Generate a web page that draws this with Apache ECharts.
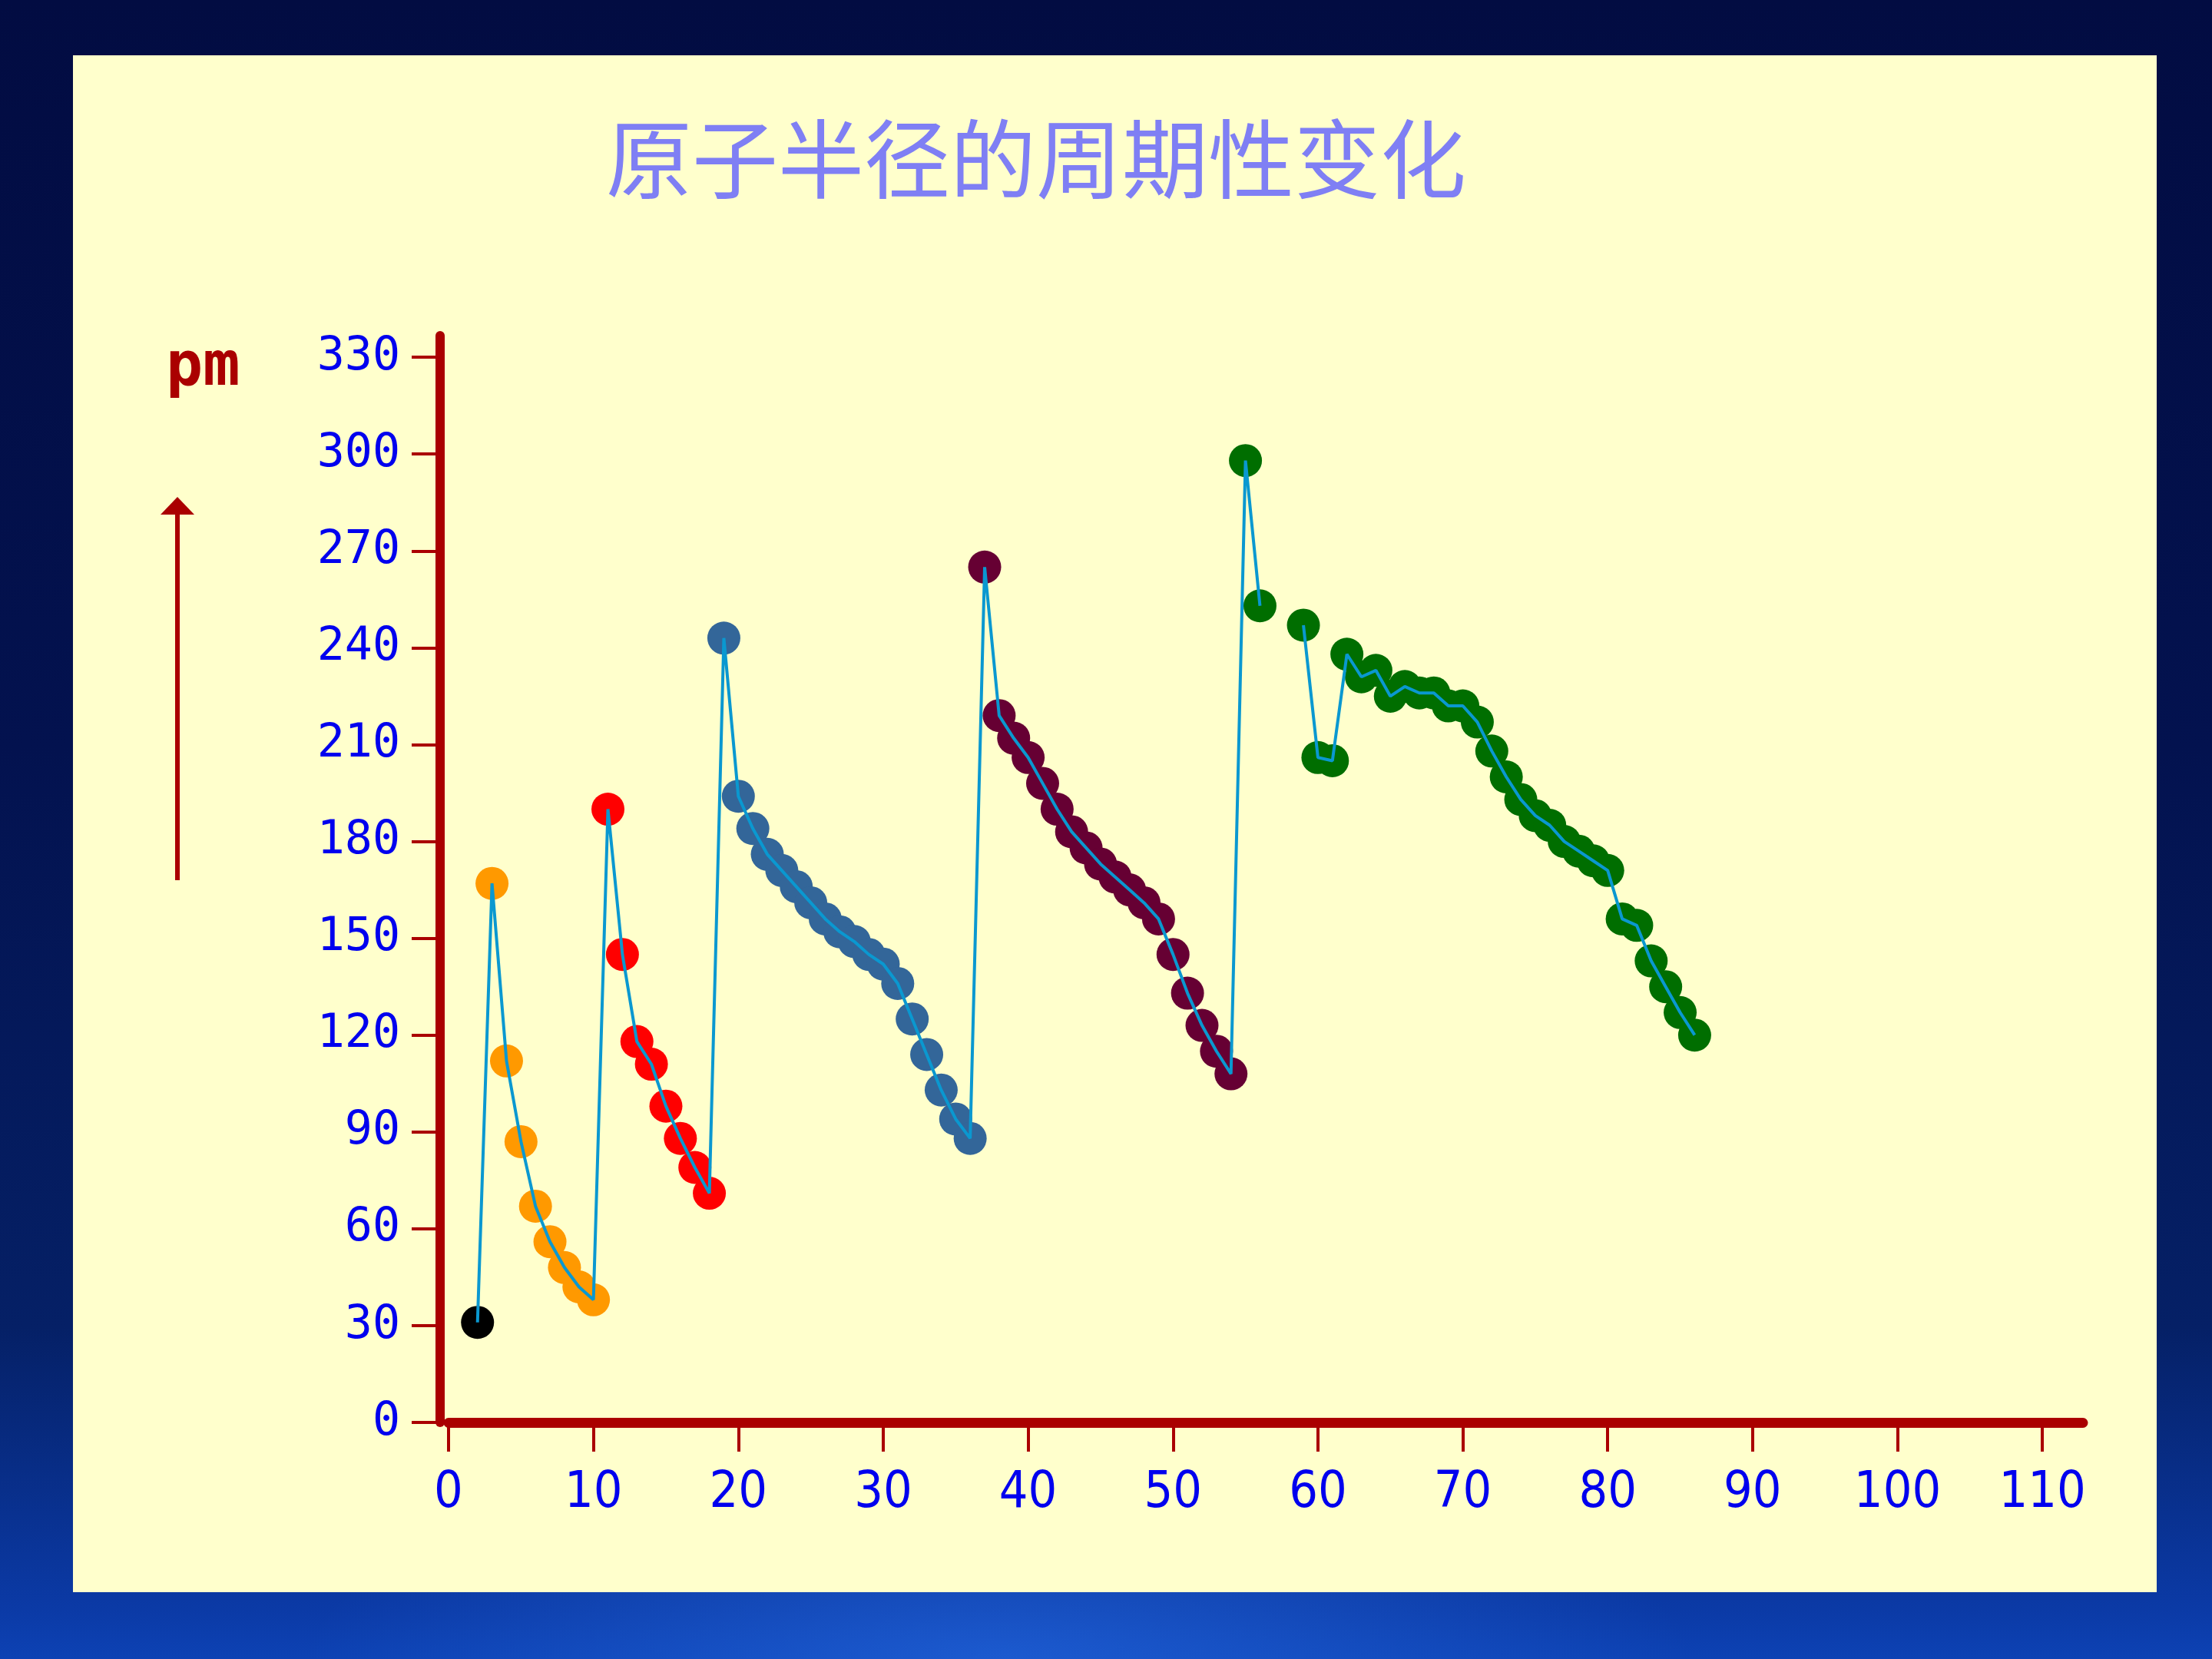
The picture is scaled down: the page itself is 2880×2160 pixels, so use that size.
<!DOCTYPE html>
<html>
<head>
<meta charset="utf-8">
<title>原子半径的周期性变化</title>
<script src="https://cdn.jsdelivr.net/npm/echarts@6/dist/echarts.min.js"></script>
<style>
  html, body {
    margin: 0;
    padding: 0;
    width: 2880px;
    height: 2160px;
    overflow: hidden;
  }
  body {
    background:
      radial-gradient(ellipse 900px 260px at 1300px 2160px, rgba(40, 110, 230, 0.55), rgba(40, 110, 230, 0) 100%),
      linear-gradient(180deg, #020c42 0%, #03124f 45%, #052066 80%, #0b3aa6 97%, #0d42b4 100%);
  }
  .panel {
    position: absolute;
    left: 95px;
    top: 72px;
    width: 2713px;
    height: 2001px;
    background: #ffffcc;
  }
  #chart {
    position: absolute;
    left: 0;
    top: 0;
    width: 2880px;
    height: 2160px;
  }
</style>
</head>
<body>
<div class="panel"></div>
<div id="chart"></div>
<script>
// 原子序数 / 原子半径 (pm)，按周期分组
const zP1 = [2]
const rP1 = [31]
const zP2 = [3, 4, 5, 6, 7, 8, 9, 10]
const rP2 = [167, 112, 87, 67, 56, 48, 42, 38]
const zP3 = [11, 12, 13, 14, 15, 16, 17, 18]
const rP3 = [190, 145, 118, 111, 98, 88, 79, 71]
const zP4 = [19, 20, 21, 22, 23, 24, 25, 26, 27, 28, 29, 30, 31, 32, 33, 34, 35, 36]
const rP4 = [243, 194, 184, 176, 171, 166, 161, 156, 152, 149, 145, 142, 136, 125, 114, 103, 94, 88]
const zP5 = [37, 38, 39, 40, 41, 42, 43, 44, 45, 46, 47, 48, 49, 50, 51, 52, 53, 54]
const rP5 = [265, 219, 212, 206, 198, 190, 183, 178, 173, 169, 165, 161, 156, 145, 133, 123, 115, 108]
const zP6 = [55, 56, 59, 60, 61, 62, 63, 64, 65, 66, 67, 68, 69, 70, 71, 72, 73, 74, 75, 76, 77, 78, 79, 80, 81, 82, 83, 84, 85, 86]
const rP6 = [298, 253, 247, 206, 205, 238, 231, 233, 225, 228, 226, 226, 222, 222, 217, 208, 200, 193, 188, 185, 180, 177, 174, 171, 156, 154, 143, 135, 127, 120]

const xTicks = [0, 10, 20, 30, 40, 50, 60, 70, 80, 90, 100, 110]
const yTicks = [0, 30, 60, 90, 120, 150, 180, 210, 240, 270, 300, 330]

const periods = [
  { z: zP1, r: rP1, color: '#000000' },
  { z: zP2, r: rP2, color: '#ff9900' },
  { z: zP3, r: rP3, color: '#ff0000' },
  { z: zP4, r: rP4, color: '#336699' },
  { z: zP5, r: rP5, color: '#660033' },
  { z: zP6, r: rP6, color: '#006e00' }
]

const pairs = (z, r) => z.map((v, i) => [v, r[i]])

// 连线：原子序数不连续的地方断开
const lineData = []
periods.forEach((p) => {
  p.z.forEach((v, i) => {
    const last = lineData[lineData.length - 1]
    if (last && last[1] !== '-' && v - last[0] > 1) {
      lineData.push([last[0] + 1, '-'])
    }
    lineData.push([v, p.r[i]])
  })
})

const axisRed = '#aa0000'
const labelBlue = '#0000ee'

const scatterSeries = periods.map((p) => ({
  type: 'scatter',
  data: pairs(p.z, p.r),
  symbol: 'circle',
  symbolSize: 43,
  itemStyle: { color: p.color, opacity: 1 },
  z: 2
}))

const option = {
  backgroundColor: 'transparent',
  animation: false,
  title: {
    text: '原子半径的周期性变化',
    left: 784,
    top: 146,
    textStyle: {
      fontFamily: 'Noto Sans CJK SC',
      fontSize: 112,
      fontWeight: 'normal',
      color: '#7f7ff4'
    }
  },
  grid: {
    left: 584,
    right: 168,
    top: 437,
    bottom: 308
  },
  xAxis: {
    type: 'value',
    min: 0,
    max: 112.8,
    axisLine: { onZero: false, lineStyle: { color: axisRed, width: 13 } },
    axisTick: {
      show: true,
      length: 38,
      customValues: xTicks,
      lineStyle: { color: axisRed, width: 4 }
    },
    axisLabel: {
      customValues: xTicks,
      color: labelBlue,
      fontFamily: "'Liberation Sans Narrow', 'DejaVu Sans Condensed', sans-serif",
      fontSize: 66,
      margin: 60
    },
    splitLine: { show: false }
  },
  yAxis: {
    type: 'value',
    min: 0,
    max: 336.7,
    offset: 11,
    axisLine: { show: true, onZero: false, lineStyle: { color: axisRed, width: 12 } },
    axisTick: {
      show: true,
      length: 37,
      customValues: yTicks,
      lineStyle: { color: axisRed, width: 4 }
    },
    axisLabel: {
      customValues: yTicks,
      color: labelBlue,
      fontFamily: "'DejaVu Sans Mono', monospace",
      fontSize: 60,
      margin: 52
    },
    splitLine: { show: false }
  },
  graphic: [
    {
      type: 'text',
      left: 216,
      top: 440,
      style: {
        text: 'pm',
        font: "bold 80px 'DejaVu Sans Mono'",
        fill: axisRed
      }
    },
    {
      type: 'line',
      shape: { x1: 231, y1: 1146, x2: 231, y2: 664 },
      style: { stroke: axisRed, lineWidth: 6 }
    },
    {
      type: 'polygon',
      shape: { points: [[209, 670], [253, 670], [231, 647]] },
      style: { fill: axisRed }
    }
  ],
  series: [
    ...scatterSeries,
    {
      type: 'line',
      data: lineData,
      showSymbol: false,
      connectNulls: false,
      lineStyle: { color: '#0a98d0', width: 4 },
      z: 3
    }
  ]
}

const chart = echarts.init(document.getElementById('chart'))
chart.setOption(option)
</script>
</body>
</html>
